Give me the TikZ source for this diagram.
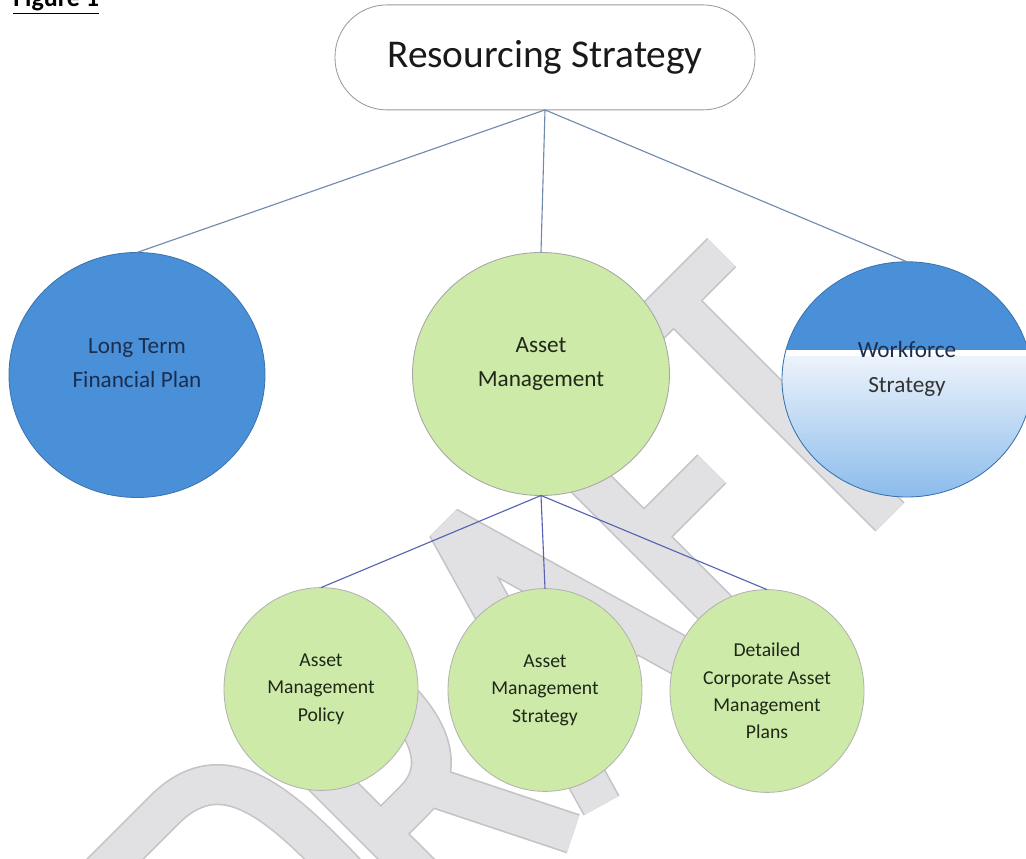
\documentclass[tikz,border=0pt]{standalone}
\usepackage{fontspec}
\setmainfont{Carlito}
\usepackage{xcolor}
\usepackage{tikz}
\usetikzlibrary{shapes.geometric}

\definecolor{planblue}{RGB}{74,144,217}
\definecolor{assetgreen}{RGB}{206,234,168}
\definecolor{navytext}{RGB}{28,46,78}
\definecolor{greentext}{RGB}{30,40,25}
\definecolor{linkgrey}{RGB}{112,138,172}
\definecolor{linkblue}{RGB}{84,100,178}
\definecolor{draftfill}{RGB}{225,225,227}
\definecolor{draftedge}{RGB}{195,195,200}
\definecolor{paleblue}{RGB}{236,243,251}
\definecolor{midblue}{RGB}{135,185,235}

\begin{document}
\begin{tikzpicture}[
  bigcircle/.style={ellipse, draw=gray!70, line width=0.6pt, align=center,
    outer sep=0pt, font=\fontsize{16.5}{24.5}\selectfont,
    text height=1.25cm, text depth=0.6cm},
  smallcircle/.style={ellipse, draw=gray!60, line width=0.6pt, fill=assetgreen,
    align=center, outer sep=0pt, text=greentext,
    font=\fontsize{14}{19.5}\selectfont,
    minimum width=4.85cm, minimum height=5.07cm},
  draftstroke/.style={draw=draftfill, line width=0.95cm, line join=miter, miter limit=2,
    preaction={draw=draftedge, line width=1.03cm, line join=miter, miter limit=2}},
  link/.style={linkgrey, line width=0.8pt},
  sublink/.style={linkblue, line width=0.8pt}
]
\useasboundingbox (0,0) rectangle (25.65,21.475);

\begin{scope}[shift={(22.25,8.55)}, rotate=45]
  \draw[draftstroke]
    (-20.3,0.45) -- (-20.3,7.65) -- (-18.0,7.65) .. controls (-16.1,7.65) and (-15.9,6.0) .. (-15.9,4.05)
      .. controls (-15.9,2.1) and (-16.1,0.45) .. (-18.0,0.45) -- cycle
    (-14.6,0) -- (-14.6,7.65) -- (-13.4,7.65) .. controls (-12.0,7.65) and (-11.9,6.6) .. (-11.9,5.5)
      .. controls (-11.9,4.4) and (-12.3,3.4) .. (-13.4,3.4) -- (-14.6,3.4)
    (-12.9,3.4) -- (-11.2,0)
    (-10.2,0) -- (-8.0,7.65) -- (-5.8,0)
    (-9.5,2.5) -- (-6.5,2.5)
    (-4.7,0) -- (-4.7,7.65) -- (-2.0,7.65)
    (-4.7,4.0) -- (-2.3,4.0)
    (0,0) -- (0,7.65)
    (-1.7,7.65) -- (1.7,7.65);
\end{scope}

\node[anchor=base west, inner sep=0pt, font=\fontsize{18.5}{22}\selectfont\bfseries]
  (figlabel) at (0.325,21.3) {\underline{Figure 1}};

\node[draw=gray!80, line width=0.6pt, rounded corners=1.3cm, outer sep=0pt,
  minimum width=10.5cm, minimum height=2.625cm, text=black!90,
  font=\fontsize{28}{34}\selectfont] (resourcing) at (13.625,20.04) {Resourcing Strategy};

\node[bigcircle, fill=planblue, draw=planblue!80!black, text=navytext,
  minimum width=6.4cm, minimum height=6.125cm] (ltfp) at (3.425,12.1) {Long Term\\Financial Plan};
\node[bigcircle, fill=assetgreen, text=greentext,
  minimum width=6.425cm, minimum height=6.075cm] (am) at (13.525,12.125) {Asset\\Management};

\fill[planblue] (22.675,11.99) ellipse [x radius=3.125cm, y radius=2.94cm];
\begin{scope}
  \clip (22.675,11.99) ellipse [x radius=3.125cm, y radius=2.94cm];
  \fill[white] (19.4,12.55) rectangle (26,12.725);
  \shade[top color=paleblue, bottom color=midblue] (19.4,8.9) rectangle (26,12.55);
\end{scope}
\node[bigcircle, draw=planblue!80!black, minimum width=6.25cm, minimum height=5.88cm]
  (wf) at (22.675,11.99) {\textcolor{navytext}{Workforce}\\\textcolor{black!80}{Strategy}};

\node[smallcircle] (amp) at (8.025,4.25) {Asset\\Management\\Policy};
\node[smallcircle] (ams) at (13.625,4.225) {Asset\\Management\\Strategy};
\node[smallcircle] (dcamp) at (19.175,4.2) {Detailed\\Corporate Asset\\Management\\Plans};

\draw[link] (resourcing.south) -- (ltfp.north);
\draw[link] (resourcing.south) -- (am.north);
\draw[link] (resourcing.south) -- (wf.north);
\draw[sublink] (am.south) -- (amp.north);
\draw[sublink] (am.south) -- (ams.north);
\draw[sublink] (am.south) -- (dcamp.north);
\end{tikzpicture}
\end{document}
